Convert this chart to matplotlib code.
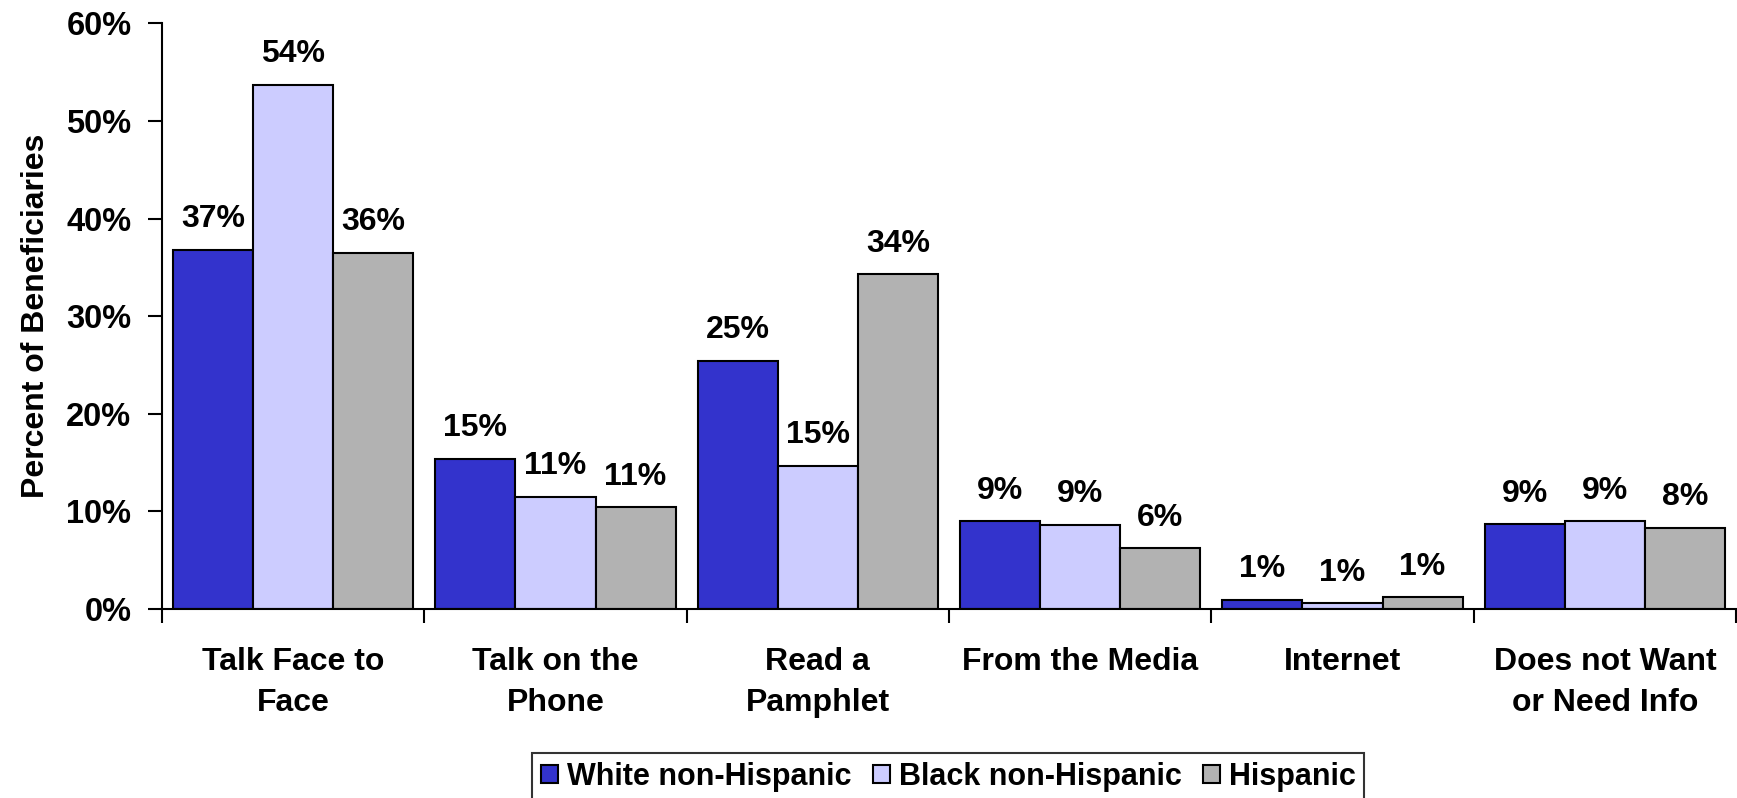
import matplotlib
matplotlib.use("Agg")
import matplotlib.pyplot as plt
from matplotlib import font_manager
import numpy as np

categories = ["Talk Face to\nFace", "Talk on the\nPhone", "Read a\nPamphlet",
              "From the Media", "Internet", "Does not Want\nor Need Info"]
series_names = ["White non-Hispanic", "Black non-Hispanic", "Hispanic"]
white = [36.8, 15.4, 25.4, 9.0, 0.95, 8.7]
black = [53.7, 11.5, 14.7, 8.6, 0.6, 9.0]
hispanic = [36.5, 10.4, 34.3, 6.2, 1.2, 8.3]
white_labels = ["37%", "15%", "25%", "9%", "1%", "9%"]
black_labels = ["54%", "11%", "15%", "9%", "1%", "9%"]
hispanic_labels = ["36%", "11%", "34%", "6%", "1%", "8%"]
colors = ["#3333CC", "#CCCCFF", "#B2B2B2"]
yticks = [0, 10, 20, 30, 40, 50, 60]

names = {f.name for f in font_manager.fontManager.ttflist}
fam = "Liberation Sans" if "Liberation Sans" in names else "DejaVu Sans"
plt.rcParams["font.family"] = [fam, "DejaVu Sans"]
plt.rcParams["font.weight"] = "bold"

fig = plt.figure(figsize=(17.37, 7.98), dpi=100)
ax = fig.add_axes([162 / 1737, 1 - 609 / 798, (1736 - 162) / 1737, (609 - 23.3) / 798])

x = np.arange(len(categories))
w = 0.305
data = [white, black, hispanic]
labels = [white_labels, black_labels, hispanic_labels]
for k, (vals, labs, c, nm) in enumerate(zip(data, labels, colors, series_names)):
    pos = x + (k - 1) * w
    ax.bar(pos, vals, width=w, color=c, edgecolor="black", linewidth=1.5, label=nm)
    for px, v, lab in zip(pos, vals, labs):
        ax.annotate(lab, (px, v), xytext=(0, 22), textcoords="offset points",
                    ha="center", va="center", fontsize=23, fontweight="bold")

ax.set_xlim(-0.5, len(categories) - 0.5)
ax.set_ylim(0, 60)
ax.set_yticks(yticks)
ax.set_yticklabels([f"{t}%" for t in yticks], fontsize=23.5, fontweight="bold")
ax.set_xticks(x)
ax.set_xticklabels(categories, fontsize=23, fontweight="bold", linespacing=1.5)
ax.set_xticks(np.arange(-0.5, len(categories)), minor=True)
ax.tick_params(axis="x", which="major", length=0, pad=27)
ax.tick_params(axis="x", which="minor", length=10, width=1.5, direction="out")
ax.tick_params(axis="y", length=10, width=1.5, direction="out", pad=12)
for s in ["top", "right"]:
    ax.spines[s].set_visible(False)
for s in ["left", "bottom"]:
    ax.spines[s].set_linewidth(1.5)

ax.set_ylabel("Percent of Beneficiaries", fontsize=23, fontweight="bold", labelpad=11)

lp = {"weight": "bold", "size": 22}
leg = fig.legend(loc="lower center", bbox_to_anchor=(0.546, -0.003), ncol=3, frameon=True,
                 fancybox=False, edgecolor="black", prop=lp, handlelength=0.55,
                 handleheight=0.55, handletextpad=0.3, columnspacing=0.7,
                 borderpad=0.28, borderaxespad=0.0)
leg.get_frame().set_linewidth(1.5)

fig.savefig("out.png", dpi=100)
